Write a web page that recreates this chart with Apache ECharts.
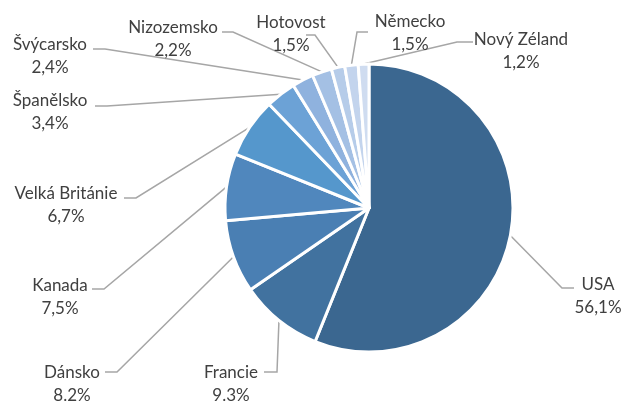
<!DOCTYPE html>
<html>
<head>
<meta charset="utf-8">
<script src="https://cdn.jsdelivr.net/npm/echarts@6/dist/echarts.min.js"></script>
<style>html,body{margin:0;padding:0;background:#fff;}#chart{width:631px;height:401px;}</style>
</head>
<body>
<div id="chart"></div>
<script>
// Data
var categories = ['USA', 'Francie', 'Dánsko', 'Kanada', 'Velká Británie', 'Španělsko', 'Švýcarsko', 'Nizozemsko', 'Hotovost', 'Německo', 'Nový Zéland'];
var values = [56.1, 9.3, 8.2, 7.5, 6.7, 3.4, 2.4, 2.2, 1.5, 1.5, 1.2];
var valueLabels = ['56,1%', '9.3%', '8.2%', '7,5%', '6,7%', '3,4%', '2,4%', '2,2%', '1,5%', '1,5%', '1,2%'];

// Styling / layout (kept separate from data)
var colors = ['#3b6790', '#41729f', '#4a7fb3', '#5087bd', '#5597cc', '#6ca2d6', '#8fb2de', '#a4c0e4', '#b6cce9', '#c3d4ed', '#cfdcf0'];
// label block centre [x, y], leader bend point, leader end point
var labelPos = [
  {c: [598, 296], bend: [562, 288], end: [574, 288]},
  {c: [231, 384], bend: [277, 372], end: [264, 372]},
  {c: [72, 384],  bend: [117, 372], end: [105, 372]},
  {c: [60, 297],  bend: [104, 289], end: [92, 289]},
  {c: [66, 205],  bend: [136, 198], end: [124, 198]},
  {c: [50, 112],  bend: [107, 106], end: [95, 106]},
  {c: [50, 56],   bend: [105, 49],  end: [93, 49]},
  {c: [173, 39],  bend: [233, 32],  end: [222, 32]},
  {c: [291, 34],  bend: [315, 35],  end: [306, 35]},
  {c: [410, 33],  bend: [357, 32],  end: [368, 32]},
  {c: [521, 51],  bend: [457, 42],  end: [473, 42]}
];

var chart = echarts.init(document.getElementById('chart'), null, {renderer: 'canvas'});
var seriesData = categories.map(function (name, i) {
  return {name: name, value: values[i], itemStyle: {color: colors[i]}};
});

chart.setOption({
  backgroundColor: '#ffffff',
  animation: false,
  series: [{
    type: 'pie',
    center: [369, 208],
    radius: [0, 144],
    startAngle: 90,
    clockwise: true,
    avoidLabelOverlap: false,
    data: seriesData,
    itemStyle: {borderColor: '#ffffff', borderWidth: 3},
    label: {
      show: true,
      position: 'outside',
      formatter: function (p) { return p.name + '\n' + valueLabels[p.dataIndex]; },
      fontFamily: 'Lato, "Noto Sans", sans-serif',
      fontSize: 17,
      lineHeight: 23,
      color: '#404040',
      align: 'center'
    },
    labelLine: {
      show: true,
      length: 20,
      length2: 10,
      smooth: false,
      lineStyle: {color: '#a6a6a6', width: 1.5}
    },
    labelLayout: function (params) {
      var lp = labelPos[params.dataIndex];
      var pts = params.labelLinePoints;
      return {
        x: lp.c[0],
        y: lp.c[1],
        align: 'center',
        verticalAlign: 'middle',
        labelLinePoints: [pts[0], lp.bend, lp.end]
      };
    }
  }]
});
</script>
</body>
</html>
